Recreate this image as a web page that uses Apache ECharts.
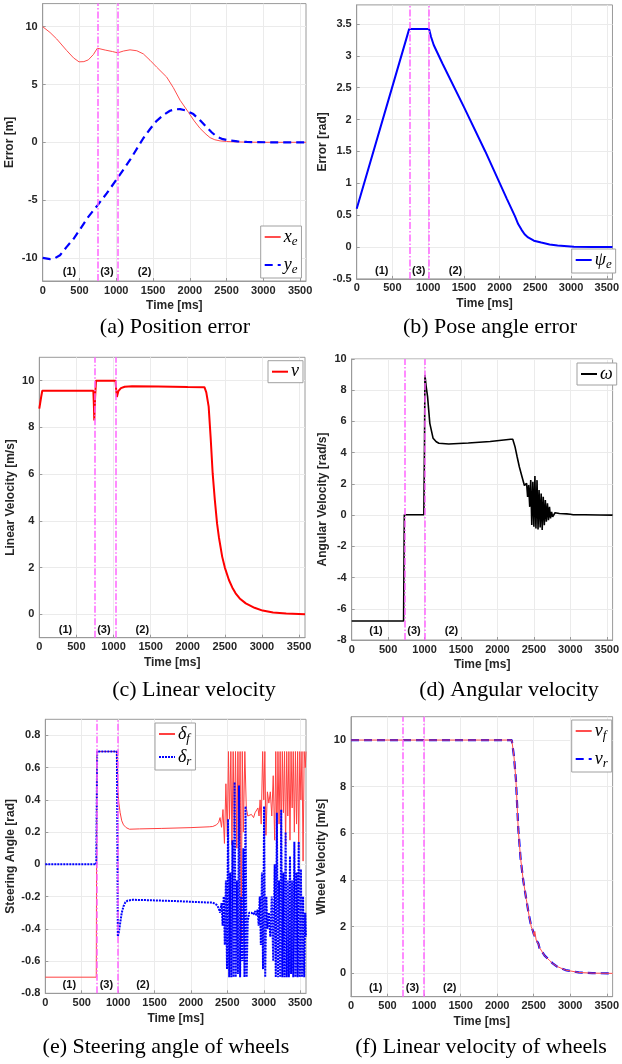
<!DOCTYPE html>
<html><head><meta charset="utf-8">
<script src="https://cdn.jsdelivr.net/npm/echarts@6/dist/echarts.min.js"></script>
<style>html,body{margin:0;padding:0;background:#fff}#c{width:622px;height:1064px}</style>
</head><body><div id="c"></div><script>
// ---------------- data ----------------
const xTicks = [0, 500, 1000, 1500, 2000, 2500, 3000, 3500];
const yTicksA = [-10, -5, 0, 5, 10];
const yTicksB = [-0.5, 0, 0.5, 1, 1.5, 2, 2.5, 3, 3.5];
const yTicksC = [0, 2, 4, 6, 8, 10];
const yTicksD = [-8, -6, -4, -2, 0, 2, 4, 6, 8, 10];
const yTicksE = [-0.8, -0.6, -0.4, -0.2, 0, 0.2, 0.4, 0.6, 0.8];
const yTicksF = [0, 2, 4, 6, 8, 10];

const captions = ['(a) Position error', '(b) Pose angle error', '(c) Linear velocity',
  '(d) Angular velocity', '(e) Steering angle of wheels', '(f) Linear velocity of wheels'];
const yNames = ['Error [m]', 'Error [rad]', 'Linear Velocity [m/s]', 'Angular Velocity [rad/s]',
  'Steering Angle [rad]', 'Wheel Velocity [m/s]'];
const xName = 'Time [ms]';
const phaseNames = ['(1)', '(3)', '(2)'];

// phase switching times per panel
const switchA = [743, 1020];
const switchB = [738, 1013];
const switchC = [745, 1027];
const switchD = [724, 1001];
const switchE = [710, 992];
const switchF = [711, 997];
// phase label positions per panel (time) and level
const phaseTA = [371, 879, 1392], phaseYA = -11.3;
const phaseTB = [358, 875, 1390], phaseYB = -0.38;
const phaseTC = [359, 877, 1395], phaseYC = -0.7;
const phaseTD = [340, 862, 1376], phaseYD = -7.47;
const phaseTE = [337, 846, 1347], phaseYE = -0.753;
const phaseTF = [344, 849, 1359], phaseYF = -0.66;

// (a) position error
const xeT = [0, 100, 190, 326, 420, 494, 560, 620, 690, 743, 850, 950, 1020, 1100, 1187, 1280, 1368, 1459, 1550, 1686, 1776, 1868, 1981, 2060, 2140, 2220, 2276, 2340, 2412, 2500, 2600, 2800, 3000, 3580];
const xeV = [10, 9.5, 8.94, 7.94, 7.3, 6.96, 6.98, 7.13, 7.6, 8.14, 7.98, 7.85, 7.74, 7.9, 8.0, 7.92, 7.65, 7.1, 6.5, 5.64, 4.73, 3.64, 2.6, 1.85, 1.2, 0.7, 0.4, 0.22, 0.12, 0.07, 0.04, 0.01, 0, 0];
const yeT = [0, 100, 160, 235, 326, 420, 500, 620, 748, 870, 1015, 1187, 1368, 1460, 1550, 1640, 1731, 1800, 1868, 1950, 2049, 2140, 2231, 2300, 2367, 2450, 2548, 2650, 2775, 2900, 3100, 3580];
const yeV = [-10, -10.1, -10.05, -9.77, -9.05, -8.35, -7.6, -6.45, -5.43, -4.42, -3.12, -1.53, 0.35, 1.15, 1.86, 2.35, 2.73, 2.85, 2.87, 2.75, 2.44, 1.9, 1.29, 0.85, 0.49, 0.27, 0.15, 0.08, 0.03, 0.01, 0, 0];

// (b) pose angle error
const psiT = [0, 734, 750, 1014, 1040, 1078, 1200, 1500, 1800, 2100, 2216, 2260, 2308, 2350, 2399, 2480, 2583, 2700, 2812, 3040, 3300, 3580];
const psiV = [0.6, 3.42, 3.42, 3.42, 3.3, 3.17, 2.88, 2.2, 1.5, 0.76, 0.48, 0.36, 0.27, 0.2, 0.15, 0.1, 0.07, 0.04, 0.026, 0.005, 0, 0];

// (c) linear velocity
const vT = [0, 25, 40, 728, 735, 741, 752, 764, 1027, 1036, 1045, 1065, 1100, 1150, 1250, 1600, 2000, 2225, 2250, 2282, 2310, 2336, 2365, 2395, 2420, 2464, 2500, 2555, 2600, 2645, 2700, 2782, 2900, 3009, 3150, 3327, 3580];
const vV = [8.8, 9.3, 9.57, 9.57, 9.0, 8.3, 9.3, 10, 10, 9.6, 9.3, 9.55, 9.68, 9.74, 9.76, 9.75, 9.73, 9.72, 9.5, 8.89, 7.5, 6.03, 4.9, 3.89, 3.3, 2.47, 2.0, 1.47, 1.15, 0.9, 0.68, 0.47, 0.28, 0.16, 0.08, 0.04, 0.0];

// (d) angular velocity
const wT = [0, 712, 722, 990, 1000, 1005, 1020, 1041, 1072, 1117, 1160, 1197, 1332, 1600, 1900, 2181, 2210, 2240, 2270, 2300, 2337, 2370, 2390,
  2400, 2414, 2428, 2443, 2457, 2471, 2486, 2500, 2514, 2528, 2543, 2557, 2571, 2586, 2600, 2614, 2628, 2643, 2657, 2671, 2686, 2700, 2714, 2728, 2743, 2757,
  2790, 2850, 2950, 3000, 3010, 3020, 3040, 3200, 3400, 3580];
const wV = [-6.78, -6.78, 0.02, 0.02, 5, 8.98, 8.3, 7.59, 5.88, 4.92, 4.7, 4.6, 4.56, 4.62, 4.72, 4.86, 4.86, 4.4, 3.74, 3.1, 2.46, 1.9, 1.85,
  2.03, 1.17, 1.92, 0.53, 2.24, -0.64, 2.14, -0.75, 2.5, -0.85, 2.24, -0.92, 1.6, -0.79, 1.39, -0.96, 1.17, -0.64, 0.96, -0.43, 0.75, -0.32, 0.53, -0.21, 0.21, -0.11,
  0.15, 0.1, 0.08, 0.05, -0.05, 0.1, 0.02, 0.02, 0.01, 0];

// (e) steering angles
const dfT = [0, 700, 708, 983, 990, 996, 1010, 1028, 1050, 1074, 1110, 1156, 1292, 1600, 2000, 2250,
  2300, 2350, 2380, 2400, 2420, 2440, 2460, 2480, 2500, 2515, 2530, 2548, 2563, 2580, 2595, 2612, 2630, 2645, 2660, 2675, 2690, 2705, 2720, 2740, 2760,
  2780, 2800, 2830, 2860, 2880, 2900, 2920, 2935, 2950, 2965, 2985, 3000, 3015, 3030, 3050, 3070, 3090, 3110, 3130, 3150, 3165, 3180, 3195, 3210, 3225,
  3240, 3255, 3270, 3285, 3300, 3315, 3330, 3345, 3360, 3375, 3390, 3405, 3420, 3435, 3450, 3465, 3480, 3495, 3510, 3525, 3540, 3555, 3570, 3580];
const dfV = [-0.7, -0.7, 0.7, 0.7, 0.55, 0.46, 0.38, 0.32, 0.27, 0.245, 0.228, 0.218, 0.22, 0.223, 0.228, 0.233,
  0.235, 0.245, 0.26, 0.29, 0.23, 0.34, 0.13, 0.5, 0.17, 0.7, 0.28, 0.7, 0.12, 0.7, 0.2, 0.7, 0.1, 0.7, 0.15, 0.7, -0.48, 0.7, 0.2, 0.7, 0.35,
  0.3, 0.3, 0.31, 0.29, 0.32, 0.33, 0.35, 0.3, 0.4, 0.25, 0.7, 0.4, 0.7, 0.18, 0.45, 0.38, 0.45, 0.3, 0.55, 0.15, 0.7, 0.1, 0.7, 0.25, 0.7,
  0.18, 0.7, 0.32, 0.7, 0.12, 0.7, 0.3, 0.7, 0.15, 0.7, 0.35, 0.7, 0.2, 0.7, 0.25, 0.7, 0.1, 0.7, 0.4, 0.7, 0.02, 0.7, 0.6, 0.7];
const drT = [0, 700, 712, 983, 990, 996, 1010, 1028, 1050, 1074, 1100, 1130, 1201, 1400, 1800, 2250,
  2300, 2350, 2380, 2400, 2420, 2435, 2450, 2465, 2480, 2495, 2510, 2525, 2540, 2555, 2570, 2585, 2600, 2615, 2630, 2645, 2660, 2675, 2690, 2705, 2720, 2735, 2750, 2765,
  2780, 2800, 2830, 2860, 2880, 2900, 2915, 2930, 2945, 2960, 2975, 2990, 3005, 3020, 3035, 3050, 3070, 3090, 3110, 3130, 3150, 3165, 3180, 3195, 3210, 3225,
  3240, 3255, 3270, 3285, 3300, 3315, 3330, 3345, 3360, 3375, 3390, 3405, 3420, 3435, 3450, 3465, 3480, 3495, 3510, 3525, 3540, 3555, 3570, 3580];
const drV = [0, 0, 0.7, 0.7, 0.2, -0.448, -0.42, -0.365, -0.3, -0.26, -0.235, -0.225, -0.22, -0.222, -0.228, -0.237,
  -0.237, -0.25, -0.27, -0.3, -0.24, -0.38, -0.2, -0.5, -0.1, -0.65, 0.28, -0.7, -0.05, -0.7, 0.15, -0.7, 0.51, -0.7, -0.1, -0.68, 0.49, -0.7, -0.2, -0.6, 0.1, -0.7, 0.36, -0.7,
  -0.35, -0.3, -0.3, -0.31, -0.29, -0.32, -0.28, -0.38, -0.2, -0.5, -0.05, -0.65, 0.36, -0.7, -0.2, -0.4, -0.3, -0.45, -0.2, -0.6, 0.0, -0.7, 0.32, -0.7, -0.1, -0.7,
  0.34, -0.7, -0.05, -0.7, 0.2, -0.7, -0.1, -0.7, 0.05, -0.68, -0.1, -0.7, 0.14, -0.7, -0.05, -0.7, 0.14, -0.7, -0.03, -0.7, -0.2, -0.7, -0.3, -0.45];

// (f) wheel velocities
const wvT = [0, 2200, 2230, 2257, 2289, 2320, 2356, 2400, 2435, 2467, 2490, 2500, 2508, 2515, 2534, 2550, 2565, 2580, 2601, 2650, 2712, 2760, 2825, 2936, 3115, 3300, 3580];
const vfV = [10, 10, 9.3, 8.29, 6.15, 4.95, 4.01, 3.16, 2.5, 2.0, 1.8, 1.85, 1.6, 1.8, 1.43, 1.4, 1.25, 1.1, 1.0, 0.75, 0.57, 0.42, 0.29, 0.14, 0.04, 0.01, 0];
const vrV = [10, 10, 9.3, 8.3, 6.2, 4.95, 4.0, 3.15, 2.5, 2.0, 1.82, 1.7, 1.72, 1.65, 1.45, 1.38, 1.27, 1.08, 1.0, 0.76, 0.57, 0.43, 0.28, 0.14, 0.04, 0.01, 0];

// ---------------- chart ----------------
const pairs = (t, v) => t.map((x, i) => [x, v[i]]);
const fmtNum = v => String(parseFloat(Number(v).toFixed(3)));
const TXT = '#262626';
const FRAME = '#9a9a9a';

const grids = [
  {left: 42.7, top: 3.6, width: 263.3, height: 277.4},
  {left: 356.7, top: 4.9, width: 261, height: 274},
  {left: 39.3, top: 357.3, width: 265.7, height: 280.4},
  {left: 351.7, top: 359, width: 265.3, height: 281},
  {left: 45.3, top: 719.3, width: 260.7, height: 274},
  {left: 351, top: 716.7, width: 266, height: 280}
];
const yRanges = [[-12, 12], [-0.5, 3.8], [-1, 11], [-8, 10], [-0.8, 0.9], [-1, 11]];
const yTicks = [yTicksA, yTicksB, yTicksC, yTicksD, yTicksE, yTicksF];
const yNameGaps = [27, 26, 23, 23, 29, 23];

const xAxes = grids.map((g, i) => ({
  gridIndex: i, type: 'value', min: 0, max: 3580,
  name: xName, nameLocation: 'middle', nameGap: 19,
  nameTextStyle: {fontFamily: 'Liberation Sans', fontWeight: 'bold', fontSize: 12, color: TXT},
  axisLine: {show: true, onZero: false, lineStyle: {color: FRAME, width: 1}},
  axisTick: {show: true, inside: true, length: 3, customValues: xTicks, lineStyle: {color: FRAME}},
  axisLabel: {customValues: xTicks, formatter: v => String(v), margin: 4,
    fontFamily: 'Liberation Sans', fontWeight: 'bold', fontSize: 11, color: TXT},
  splitLine: {show: true, lineStyle: {color: '#ebebeb', width: 1}}
}));
const yAxes = grids.map((g, i) => ({
  gridIndex: i, type: 'value', min: yRanges[i][0], max: yRanges[i][1],
  name: yNames[i], nameLocation: 'middle', nameGap: yNameGaps[i], nameRotate: 90,
  nameTextStyle: {fontFamily: 'Liberation Sans', fontWeight: 'bold', fontSize: 12, color: TXT},
  axisLine: {show: true, onZero: false, lineStyle: {color: FRAME, width: 1}},
  axisTick: {show: true, inside: true, length: 3, customValues: yTicks[i], lineStyle: {color: FRAME}},
  axisLabel: {customValues: yTicks[i], formatter: fmtNum, margin: 5,
    fontFamily: 'Liberation Sans', fontWeight: 'bold', fontSize: 11, color: TXT},
  splitLine: {show: true, lineStyle: {color: '#ebebeb', width: 1}}
}));

const switches = [switchA, switchB, switchC, switchD, switchE, switchF];
const phaseTs = [phaseTA, phaseTB, phaseTC, phaseTD, phaseTE, phaseTF];
const phaseYs = [phaseYA, phaseYB, phaseYC, phaseYD, phaseYE, phaseYF];

function line(name, i, data, color, width, type, z) {
  return {name, type: 'line', xAxisIndex: i, yAxisIndex: i, data, showSymbol: false, symbol: 'none',
    lineStyle: {color, width, type: type || 'solid'}, itemStyle: {color}, z: z || 3, animation: false};
}
const series = [
  line('x_e', 0, pairs(xeT, xeV), '#ff4d4d', 1),
  line('y_e', 0, pairs(yeT, yeV), '#0000ff', 2.2, [8, 5]),
  line('psi_e', 1, pairs(psiT, psiV), '#0000ff', 2),
  line('v', 2, pairs(vT, vV), '#ff0000', 2),
  line('omega', 3, pairs(wT, wV), '#000000', 1.6),
  line('delta_f', 4, pairs(dfT, dfV), '#ff4040', 1),
  line('delta_r', 4, pairs(drT, drV), '#0000ff', 2, [2, 1]),
  line('v_f', 5, pairs(wvT, vfV), '#ff4d4d', 1, 'solid', 4),
  line('v_r', 5, pairs(wvT, vrV), '#0000ff', 2.2, [8, 5], 3)
];
for (let i = 0; i < 6; i++) {
  series.push({
    name: 'phase' + i, type: 'line', xAxisIndex: i, yAxisIndex: i, data: [], silent: true, animation: false,
    markLine: {symbol: ['none', 'none'], silent: true, animation: false, label: {show: false},
      lineStyle: {color: '#ff66ff', width: 1.5, type: [7, 2, 1.5, 2]},
      data: switches[i].map(t => ({xAxis: t}))},
    z: 2
  });
  series.push({
    name: 'ann' + i, type: 'scatter', xAxisIndex: i, yAxisIndex: i, symbolSize: 1, silent: true, animation: false,
    itemStyle: {color: 'rgba(0,0,0,0)'},
    label: {show: true, position: [0, 0], align: 'center', verticalAlign: 'middle', formatter: p => p.name,
      fontFamily: 'Liberation Sans', fontWeight: 'bold', fontSize: 11, color: '#111',
      textBorderWidth: 0, opacity: 1},
    data: phaseTs[i].map((t, k) => ({name: phaseNames[k], value: [t, phaseYs[i]]})),
    z: 5
  });
}

const legendText = {
  'x_e': '{m|x}{s|e}', 'y_e': '{m|y}{s|e}', 'psi_e': '{m|ψ}{s|e}', 'v': '{m|v}', 'omega': '{m|ω}',
  'delta_f': '{m|δ}{s|f}', 'delta_r': '{m|δ}{s|r}', 'v_f': '{m|v}{s|f}', 'v_r': '{m|v}{s|r}'
};
const rich = {
  m: {fontFamily: 'Liberation Serif', fontStyle: 'italic', fontSize: 18, color: '#000'},
  s: {fontFamily: 'Liberation Serif', fontStyle: 'italic', fontSize: 13, color: '#000', padding: [9, 0, 0, 0]}
};
function legend(data, left, top, gap) {
  return {data, left, top, orient: 'vertical', itemWidth: 16, itemHeight: 10, itemGap: gap,
    padding: [2, 4, 2, 3], backgroundColor: '#fff', borderColor: '#a0a0a0', borderWidth: 1,
    borderRadius: 0, selectedMode: false, itemStyle: {opacity: 0},
    formatter: n => legendText[n], textStyle: {rich, padding: [0, 0, 0, -2]}};
}
const legends = [
  legend(['x_e', 'y_e'], 260.7, 226, 8),
  legend(['psi_e'], 571.7, 249, 6),
  legend(['v'], 268, 360.7, 6),
  legend(['omega'], 577, 363, 6),
  legend(['delta_f', 'delta_r'], 155, 723, 3),
  legend(['v_f', 'v_r'], 571.7, 720, 8)
];

const capPos = [[175, 327], [490, 327], [194, 690], [509, 690], [166, 1047], [481, 1047]];
const graphic = captions.map((c, i) => ({
  type: 'text', x: capPos[i][0], y: capPos[i][1], silent: true,
  style: {text: c, font: '22px "Liberation Serif"', fill: '#000', textAlign: 'center', textVerticalAlign: 'middle'}
}));

const chart = echarts.init(document.getElementById('c'), null, {renderer: 'canvas'});
chart.setOption({
  animation: false,
  backgroundColor: '#fff',
  grid: grids.map(g => Object.assign({show: true, borderColor: FRAME, borderWidth: 1, backgroundColor: 'rgba(0,0,0,0)'}, g)),
  xAxis: xAxes, yAxis: yAxes, series, legend: legends, graphic
});
</script></body></html>
